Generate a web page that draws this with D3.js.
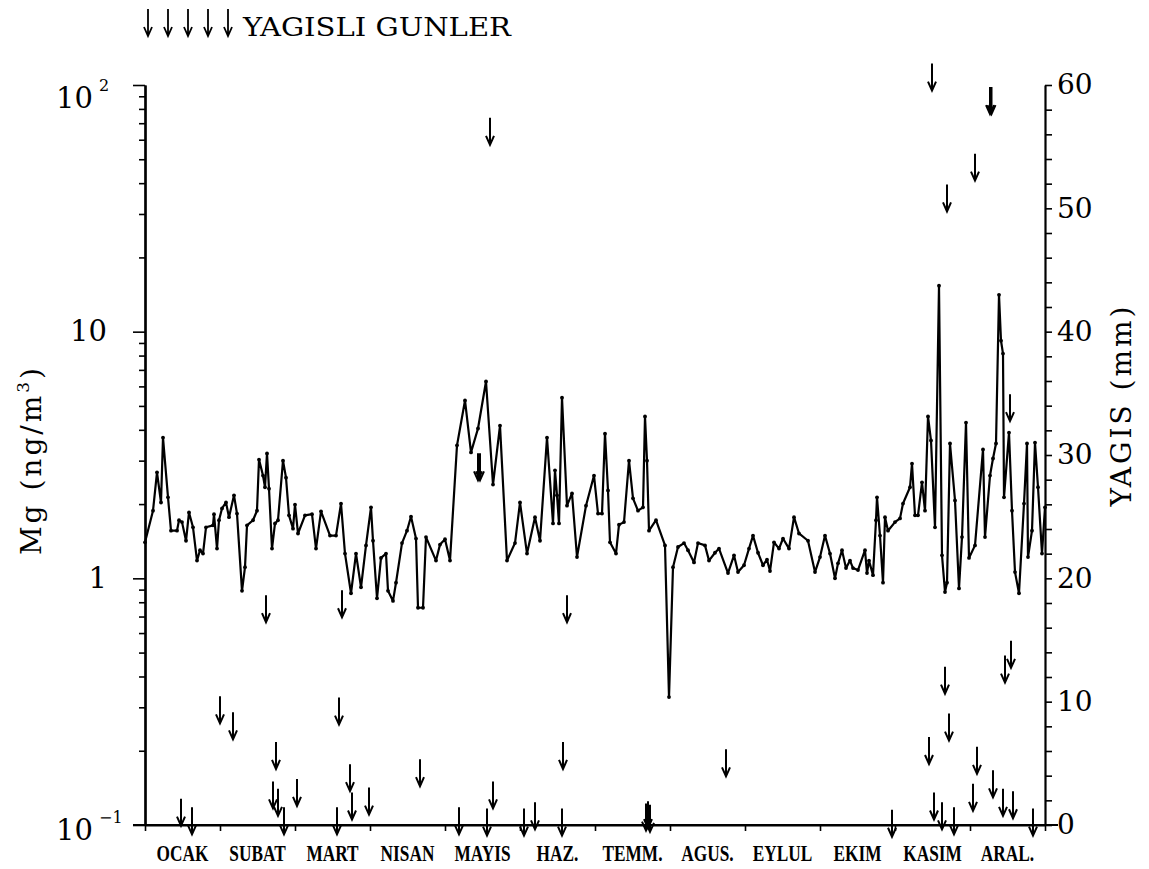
<!DOCTYPE html>
<html><head><meta charset="utf-8">
<script src="https://cdn.jsdelivr.net/npm/d3@7"></script>
<style>body{margin:0;background:#fff}</style>
</head><body>
<svg id="c" width="1149" height="869"></svg>
<script>
// ---- data (day index 0..360, 30-day months) ----
const mgDays = [0,3.2,4.8,6.4,7.2,9.2,10.4,12.8,13.6,14.8,16.4,17.6,19.2,20.8,22,23.2,24.4,27.2,27.6,28.8,29.6,30.8,32.4,33.6,35.6,36.8,38.8,40,40.8,43.2,44.8,45.6,47.2,48,48.8,49.6,50.8,52,53.2,55.2,56.4,57.6,59.2,60,61.2,64,66.8,68.4,70.4,74,76.4,78.4,80,82.4,84.4,86.4,88.4,90.4,91.2,92.8,94.4,96.4,97.2,99.2,100.4,102.8,104.8,106.4,108.4,109.2,111.2,112.4,116.4,118,120,122,124.8,128,130.4,133.2,136.4,139.2,142,144.8,148,150,152.8,156,158,160.8,163.2,164,164.8,165.6,166.8,168.8,170.8,172.8,176.4,179.6,181.2,182.8,184,185.2,186,188.4,189.6,191.6,193.6,195.2,197.2,199.2,200,200.8,201.6,204.4,208,209.6,211.2,213.2,215.6,217.2,219.6,221.2,224,225.6,228,229.6,233.2,235.6,237.2,239.6,241.6,243.2,245.2,247.2,248.8,250,251.6,253.6,255.2,257.6,259.6,261.6,265.2,268,270,272,274,276,277.2,278.8,280.4,282,283.2,285.2,288,288.8,289.6,291.2,292.4,292.8,294,295.2,296,297.2,300,302,303.2,306,306.8,308,309.2,310.8,312,313.2,314.4,316,317.6,318.8,320,320.8,322,324,325.6,326.8,328.4,329.6,332,335.2,336,338,339.2,340.4,341.6,342.4,343.2,343.6,345.6,346.8,348,349.6,351.6,352.8,353.2,354.8,356,357.2,358.8,360];
const mgValues = [1.40,1.88,2.69,2.03,3.72,2.13,1.56,1.56,1.72,1.69,1.42,1.85,1.61,1.18,1.30,1.26,1.61,1.64,1.82,1.32,1.72,1.92,2.03,1.77,2.17,1.83,0.89,1.11,1.64,1.72,1.88,3.03,2.61,2.34,3.21,2.31,1.32,1.67,1.72,3.00,2.56,1.80,1.59,1.99,1.52,1.80,1.82,1.32,1.87,1.49,1.49,2.01,1.26,0.87,1.26,0.92,1.36,1.94,1.42,0.83,1.21,1.26,0.89,0.81,0.96,1.39,1.56,1.78,1.45,0.76,0.76,1.47,1.18,1.37,1.44,1.18,3.46,5.26,3.24,4.05,6.28,2.40,4.16,1.18,1.39,2.03,1.26,1.77,1.42,3.72,1.67,2.74,2.17,1.67,5.40,1.97,2.21,1.22,1.97,2.61,1.83,1.83,3.86,2.27,1.40,1.26,1.65,1.69,3.00,2.11,1.88,1.94,4.53,3.00,1.56,1.72,1.36,0.33,1.11,1.34,1.39,1.30,1.16,1.39,1.36,1.18,1.27,1.32,1.05,1.24,1.06,1.13,1.32,1.49,1.27,1.13,1.19,1.07,1.40,1.32,1.45,1.32,1.77,1.52,1.42,1.06,1.22,1.49,1.26,1.00,1.15,1.30,1.10,1.18,1.10,1.08,1.30,1.05,1.18,1.03,1.72,2.13,1.49,0.96,1.77,1.56,1.69,1.75,2.01,2.34,2.92,1.80,1.80,2.45,1.88,4.53,3.62,1.61,15.36,1.24,0.88,0.96,3.52,2.07,0.91,1.47,4.28,1.21,1.36,3.33,1.47,2.61,3.06,3.52,14.1,9.19,8.15,2.13,3.90,1.88,1.06,0.87,2.01,3.52,1.22,1.56,3.55,2.34,1.26,1.94];

const rainDays = [14.4,18.8,30,35.2,48.4,51.2,52.4,53.2,55.6,60.8,76.8,77.6,78.8,82,82.8,89.6,110,125.6,133.2,134,136.8,138,139.2,151.6,156,166.8,167.2,168.8,200.4,201.2,202,232.4,298.8,313.6,314.8,315.6,318.8,320,320.8,321.6,323.6,331.2,332,332.8,338,338.6,339.2,343.2,344,346,346.4,347.2,355.2];
const rainMm   = [1.0,0.3,9.3,8.0,17.5,2.4,5.6,1.8,0.3,2.6,0.3,9.2,17.9,3.8,1.5,1.9,4.2,0.3,29.0,29.0,0.2,56.2,2.4,0.2,0.7,0.2,5.6,17.5,0.6,0.8,0.5,5.0,0.1,6.0,60.6,1.5,0.7,11.7,50.8,7.9,0.3,2.2,53.3,5.2,58.7,58.7,3.3,1.8,12.6,33.8,13.8,1.6,0.2];

const monthLabels = ["OCAK","SUBAT","MART","NISAN","MAYIS","HAZ.","TEMM.","AGUS.","EYLUL","EKIM","KASIM","ARAL."];
const leftMajorTicks = [0.1, 1, 10, 100];
const rightTicks = [0,10,20,30,40,50,60];
const titleText = "YAGISLI GUNLER";
const leftTitle = ["Mg (ng/m", "3", ")"];
const rightTitle = "YAGIS (mm)";

// ---- drawing ----
const svg = d3.select("#c");
const FONT = "'DejaVu Serif','Liberation Serif',serif";
const x = d3.scaleLinear().domain([0,360]).range([145,1045]);
const y = d3.scaleLog().domain([0.1,100]).range([825,85]);
const yR = d3.scaleLinear().domain([0,60]).range([825,85]);

function styleAxis(g){
  g.selectAll(".domain").attr("stroke","#000").attr("stroke-width",2.2);
  g.selectAll(".tick line").attr("stroke","#000").attr("stroke-width",1.6);
  g.selectAll(".tick text").attr("fill","#000").style("font-family",FONT).style("font-size","28px");
}

// left axis: minor ticks
const minorVals = y.ticks().filter(v => !leftMajorTicks.some(m => Math.abs(v-m)/m < 1e-6));
const gLm = svg.append("g").attr("transform","translate(145,0)")
  .call(d3.axisLeft(y).tickValues(minorVals).tickSize(6).tickSizeOuter(0).tickFormat(""));
styleAxis(gLm);
const gL = svg.append("g").attr("transform","translate(145,0)")
  .call(d3.axisLeft(y).tickValues(leftMajorTicks).tickSize(12).tickSizeOuter(0).tickPadding(26)
    .tickFormat(d => (d===10||d===1) ? String(d) : ""));
styleAxis(gL);
gL.selectAll(".tick text").style("font-size","29px");

// exponent labels for 100 and 0.1
function expLabel(val, exp, dy){
  svg.append("text").attr("x",93).attr("y",y(val)+dy)
    .attr("text-anchor","end").style("font-family",FONT).style("font-size","29px").attr("fill","#000").text("10");
  svg.append("text").attr("x",99).attr("y",y(val)+dy-17)
    .style("font-family",FONT).style("font-size","16px").attr("fill","#000").text(exp);
}
expLabel(100,"2",23);
expLabel(0.1,"\u22121",15);

// right axis
const gR = svg.append("g").attr("transform","translate(1045,0)")
  .call(d3.axisRight(yR).tickValues(d3.range(0,61,2)).tickSize(7).tickSizeOuter(0).tickPadding(5)
    .tickFormat(d => rightTicks.includes(d) ? String(d) : ""));
styleAxis(gR);

// bottom axis
const gB = svg.append("g").attr("transform","translate(0,825)")
  .call(d3.axisBottom(x).tickValues(d3.range(0,361,30)).tickSize(6).tickSizeOuter(0).tickFormat(""));
styleAxis(gB);
svg.append("line").attr("x1",x(0)-12).attr("x2",x(360)+13).attr("y1",825).attr("y2",825)
  .attr("stroke","#000").attr("stroke-width",2.2);

// month labels
monthLabels.forEach((m,i) => {
  const t = svg.append("text").attr("x",x(i*30+15)).attr("y",861).attr("text-anchor","middle")
    .style("font-family","'Liberation Serif',serif").style("font-weight","bold").style("font-size","24px")
    .attr("fill","#000").text(m);
  const w = t.node().getComputedTextLength();
  t.attr("textLength", w*0.72).attr("lengthAdjust","spacingAndGlyphs");
});

// Mg line
const pts = mgDays.map((d,i) => ({d, v: mgValues[i]}));
svg.append("path").datum(pts)
  .attr("d", d3.line().x(p => x(p.d)).y(p => y(p.v)))
  .attr("fill","none").attr("stroke","#000").attr("stroke-width",2.2).attr("stroke-linejoin","round");
svg.append("g").selectAll("circle").data(pts).join("circle")
  .attr("cx", p => x(p.d)).attr("cy", p => y(p.v)).attr("r",1.9).attr("fill","#000");

// rain arrows
function arrowPath(cx, cy){
  return `M${cx},${cy-14}L${cx},${cy+13}M${cx-4},${cy+4}L${cx},${cy+13}L${cx+4},${cy+4}`;
}
svg.append("g").selectAll("path").data(rainDays.map((d,i)=>({d, mm: rainMm[i]}))).join("path")
  .attr("d", r => arrowPath(x(r.d), yR(r.mm)))
  .attr("fill","none").attr("stroke","#000").attr("stroke-width",2);

// title with legend arrows
[0,1,2,3,4].forEach(i => {
  svg.append("path").attr("d", arrowPath(148 + i*20, 23)).attr("fill","none").attr("stroke","#000").attr("stroke-width",1.8);
});
svg.append("text").attr("x",243).attr("y",36).style("font-family",FONT).style("font-size","26px")
  .attr("fill","#000").attr("textLength",268).attr("lengthAdjust","spacingAndGlyphs").text(titleText);

// axis titles
const lt = svg.append("text").attr("transform","translate(41,460) rotate(-90)").attr("text-anchor","middle")
  .style("font-family",FONT).style("font-size","28px").style("letter-spacing","3px").attr("fill","#000");
lt.append("tspan").text(leftTitle[0]);
lt.append("tspan").attr("dy",-12).style("font-size","17px").text(leftTitle[1]);
lt.append("tspan").attr("dy",12).text(leftTitle[2]);

svg.append("text").attr("transform","translate(1131,405) rotate(-90)").attr("text-anchor","middle")
  .style("font-family",FONT).style("font-size","28px").style("letter-spacing","3px").attr("fill","#000")
  .text(rightTitle);
</script>
</body></html>
